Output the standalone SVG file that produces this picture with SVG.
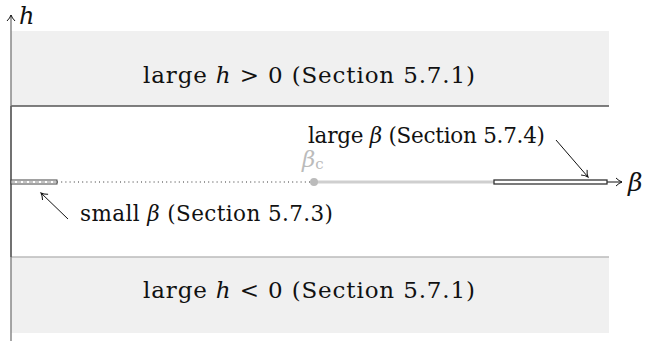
<svg xmlns="http://www.w3.org/2000/svg" width="645" height="347" viewBox="0 0 645 347">
<style>
.t{font-family:"DejaVu Serif","Liberation Serif",serif;font-size:21.5px;fill:#111}
.big{font-size:23px}
.i{font-style:italic}
.band{fill:#f0f0f0}
</style>
<defs>
<marker id="ah" markerWidth="10" markerHeight="10" refX="8" refY="5" orient="auto" markerUnits="userSpaceOnUse">
<path d="M2,1 Q5,4 8,5 Q5,6 2,9" fill="none" stroke="#111" stroke-width="1"/>
</marker>
</defs>
<g id="band-top">
<rect class="band" x="11" y="31" width="598" height="75"/>
<line x1="11" y1="106" x2="609" y2="106" stroke="#555" stroke-width="1.3"/>
<text class="t big" x="143" y="83" textLength="332" lengthAdjust="spacing">large <tspan class="i">h</tspan> &gt; 0 (Section 5.7.1)</text>
</g>
<g id="band-bottom">
<rect class="band" x="11" y="257" width="598" height="76"/>
<line x1="11" y1="257" x2="609" y2="257" stroke="#bbb" stroke-width="1.3"/>
<text class="t big" x="143" y="298" textLength="332" lengthAdjust="spacing">large <tspan class="i">h</tspan> &lt; 0 (Section 5.7.1)</text>
</g>
<g id="axes">
<line x1="11" y1="341" x2="11" y2="15" stroke="#777" stroke-width="1.3" marker-end="url(#ah)"/>
<line x1="11" y1="106" x2="11" y2="257" stroke="#555" stroke-width="1.3"/>
<text class="t i" x="19" y="24" style="font-size:24px">h</text>
<line x1="607" y1="182" x2="622" y2="182" stroke="#111" stroke-width="1" marker-end="url(#ah)"/>
<text class="t i" x="628" y="191" style="font-size:25px">β</text>
</g>
<g id="connectors">
<line x1="57" y1="182" x2="314" y2="182" stroke="#333" stroke-width="1" stroke-dasharray="1 3.2"/>
<line x1="314" y1="182" x2="494" y2="182" stroke="#cfcfcf" stroke-width="3"/>
<line x1="68" y1="219" x2="41" y2="193" stroke="#111" stroke-width="1" marker-end="url(#ah)"/>
<line x1="556" y1="140" x2="588" y2="177" stroke="#111" stroke-width="1" marker-end="url(#ah)"/>
</g>
<g id="small-beta">
<rect x="11" y="180" width="46" height="4" fill="#fff" stroke="#444" stroke-width="1"/>
<line x1="11" y1="182" x2="57" y2="182" stroke="#888" stroke-width="1" stroke-dasharray="4 2"/>
<text class="t" x="80" y="221" textLength="253" lengthAdjust="spacing">small <tspan class="i">β</tspan> (Section 5.7.3)</text>
</g>
<g id="beta-c">
<circle cx="314" cy="182" r="4" fill="#bbb"/>
<text class="t i" x="302" y="167" style="fill:#bbb;font-size:23px">β<tspan style="font-style:normal;font-size:15px" dy="2">c</tspan></text>
</g>
<g id="large-beta">
<rect x="494" y="180" width="113" height="4" fill="#fff" stroke="#333" stroke-width="1.3"/>
<text class="t" x="308" y="143" textLength="237" lengthAdjust="spacing">large <tspan class="i">β</tspan> (Section 5.7.4)</text>
</g>
</svg>
